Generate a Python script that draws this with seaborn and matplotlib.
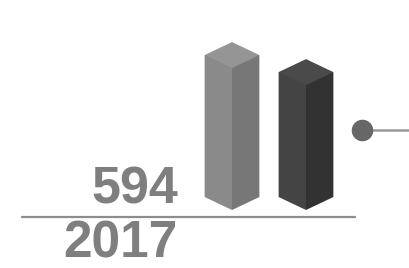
import matplotlib
matplotlib.use("Agg")
import matplotlib.pyplot as plt
from matplotlib.patches import Polygon
import seaborn as sns
import pandas as pd

# data
categories = ["A", "B"]
values = [650, 572]
value_label = "594"
year_label = "2017"

face_colors = ["#7e7e7e", "#3b3b3b"]
left_colors = ["#8a8a8a", "#444444"]
right_colors = ["#777777", "#323232"]
top_colors = ["#959595", "#4a4a4a"]

df = pd.DataFrame({"cat": categories, "val": values})

sns.set_theme(style="white")
plt.rcParams["font.family"] = ["Liberation Sans", "DejaVu Sans"]

fig = plt.figure(figsize=(4.1, 2.68), dpi=100)
ax = fig.add_axes([0, 0, 1, 1])

sns.barplot(data=df, x="cat", y="val", hue="cat", palette=face_colors,
            width=0.74, legend=False, ax=ax, linewidth=0, saturation=1)

# pixel mapping: 74 px per category, ~4.58 units per px vertically
ax.set_xlim(-232 / 74, (410 - 232) / 74)
upp = 4.58
ax.set_ylim(-71 * upp, (268 - 71) * upp)
ax.axis("off")

cap = 13 * upp
for i, p in enumerate(ax.patches[:2]):
    x0 = p.get_x()
    x1 = x0 + p.get_width()
    xc = (x0 + x1) / 2
    h = p.get_height()
    ax.add_patch(Polygon([(x0, h), (xc, h - cap), (xc, -cap), (x0, 0)],
                         closed=True, color=left_colors[i], lw=0))
    ax.add_patch(Polygon([(xc, h - cap), (x1, h), (x1, 0), (xc, -cap)],
                         closed=True, color=right_colors[i], lw=0))
    ax.add_patch(Polygon([(x0, h), (xc, h + cap), (x1, h), (xc, h - cap)],
                         closed=True, color=top_colors[i], lw=0))

# text and rule line in figure pixel coords
def px(x, y):
    return x / 410, 1 - y / 268

ax.text(*px(178, 204), value_label, transform=fig.transFigure, ha="right",
        va="baseline", fontsize=37.5, fontweight="bold", color="#7f7f7f")
ax.text(*px(178, 257), year_label, transform=fig.transFigure, ha="right",
        va="baseline", fontsize=37, fontweight="bold", color="#7f7f7f")
ax.plot([22 / 410, 355 / 410], [1 - 217 / 268] * 2, transform=fig.transFigure,
        color="#8c8c8c", lw=1.6)

# connector dot on the right
ax.plot([362 / 410, 1.0], [1 - 130 / 268] * 2, transform=fig.transFigure,
        color="#9a9a9a", lw=1.8)
ax.plot([362 / 410], [1 - 130 / 268], transform=fig.transFigure, marker="o",
        ms=14.5, color="#676767")

fig.savefig("out.png", dpi=100)
